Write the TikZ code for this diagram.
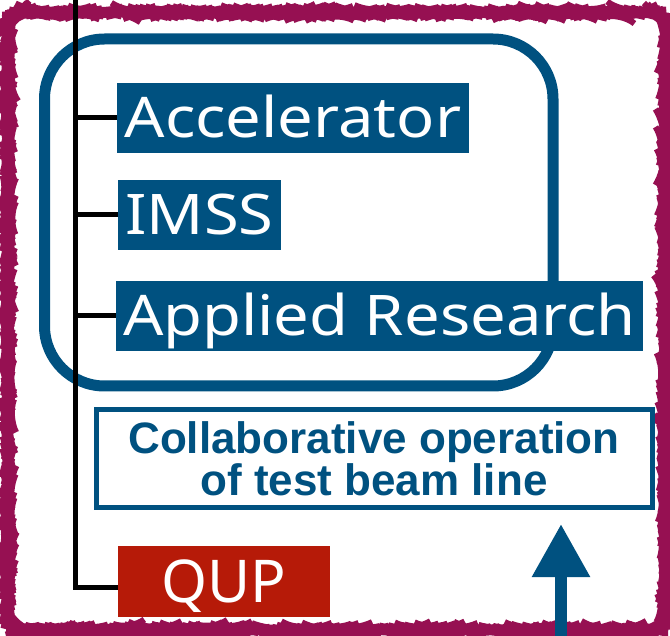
\documentclass[tikz,border=0pt]{standalone}
\usepackage{fontspec}
\usetikzlibrary{arrows.meta,decorations.pathmorphing}
\newfontfamily\lblfont{Noto Sans}[FakeStretch=1.13]
\newfontfamily\qupfont{Noto Sans}
\newfontfamily\collabfont{Liberation Sans}
\definecolor{kekblue}{RGB}{0,81,128}
\definecolor{qupred}{RGB}{182,26,8}
\definecolor{framecol}{RGB}{150,16,82}
\tikzset{
  labelbox/.style={fill=kekblue, text=white, inner sep=0pt, minimum height=70pt,
    font=\lblfont\fontsize{56}{60}\selectfont, text height=40pt, text depth=0pt},
  qupbox/.style={fill=qupred, text=white, inner sep=0pt, minimum width=212pt, minimum height=71pt,
    font=\qupfont\fontsize{59}{62}\selectfont, text height=42pt, text depth=0pt},
  collabbox/.style={draw=kekblue, line width=5pt, text=kekblue, inner sep=0pt, align=center,
    minimum width=556pt, minimum height=97pt,
    font=\collabfont\bfseries\fontsize{44}{39}\selectfont},
  treeline/.style={black, line width=5pt},
  groupframe/.style={kekblue, line width=11pt, rounded corners=60pt},
  outerframe/.style={framecol, line width=6pt, rounded corners=18pt,
    decorate, decoration={random steps, segment length=1.5pt, amplitude=0.4pt}},
  uparrow/.style={kekblue, line width=12pt, -{Triangle[width=55pt,length=53pt]}}
}
\begin{document}
\begin{tikzpicture}[x=1pt,y=-1pt]
\useasboundingbox (0,0) rectangle (670,636);
% outer rough frame
\draw[outerframe] (8,12.5) rectangle (665,630);
% group frame
\draw[groupframe] (44.5,39) rectangle (553,386);
% boxes
\node[labelbox, minimum width=352pt] (acc) at (293,118) {Accelerator};
\node[labelbox, minimum width=163pt] (imss) at (199.5,215) {IMSS};
\node[labelbox, minimum width=527pt] (appl) at (379.5,316) {Applied Research};
\node[collabbox] (collab) at (374,458.5) {Collaborative operation\\of test beam line};
\node[qupbox] (qup) at (224,581.5) {QUP};
% tree lines
\coordinate (top) at (75.5,0);
\coordinate (corner) at (75.5,587);
\draw[treeline, line join=miter] (top) -- (corner) -- (corner -| qup.west);
\draw[treeline] (acc.west -| top) -- (acc.west);
\draw[treeline] (imss.west -| top) -- (imss.west);
\draw[treeline] (appl.west -| top) -- (appl.west);
% arrow
\coordinate (abase) at (561,640);
\coordinate (atip) at (561,524);
\draw[uparrow] (abase) -- (atip);
\end{tikzpicture}
\end{document}
